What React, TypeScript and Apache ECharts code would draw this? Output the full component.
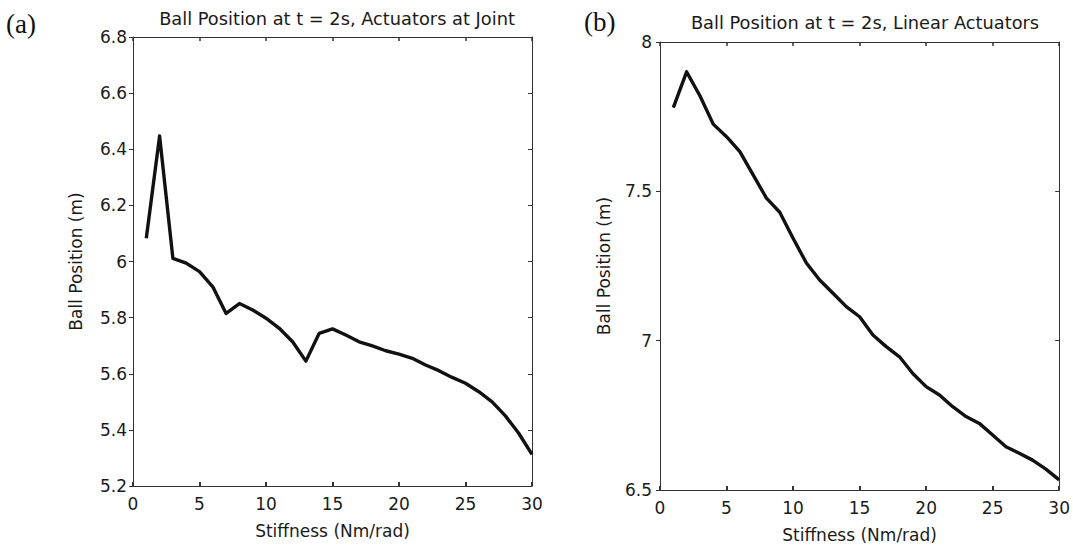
import React, { useEffect, useRef } from "react";
import * as echarts from "echarts";

const stiffness = [1,2,3,4,5,6,7,8,9,10,11,12,13,14,15,16,17,18,19,20,21,22,23,24,25,26,27,28,29,30];
const jointPos = [6.083,6.447,6.011,5.994,5.964,5.91,5.815,5.85,5.827,5.798,5.762,5.714,5.645,5.744,5.76,5.738,5.714,5.699,5.682,5.67,5.655,5.631,5.611,5.587,5.566,5.536,5.50,5.45,5.388,5.313];
const linearPos = [7.78,7.90,7.82,7.725,7.683,7.633,7.555,7.477,7.43,7.343,7.26,7.203,7.159,7.114,7.08,7.019,6.98,6.946,6.89,6.846,6.818,6.779,6.746,6.723,6.684,6.645,6.623,6.60,6.57,6.534];

const titleA = "Ball Position at t = 2s, Actuators at Joint";
const titleB = "Ball Position at t = 2s, Linear Actuators";
const xName = "Stiffness (Nm/rad)";
const yName = "Ball Position (m)";

const FONT = "'DejaVu Sans', 'Liberation Sans', Arial, sans-serif";
const TXT = "#1a1a1a";
const AX = "#333";

function makeAxes(gridIndex: number, yMin: number, yMax: number, yInt: number, labelMarginY: number, nameGapY: number) {
  const tickLabel = { fontFamily: FONT, fontSize: 17, color: TXT };
  const xAxes = [
    {
      type: "value", gridIndex, min: 0, max: 30, interval: 5, position: "bottom",
      name: xName, nameLocation: "middle", nameGap: 36,
      nameTextStyle: { fontFamily: FONT, fontSize: 17, color: TXT },
      axisLine: { show: true, onZero: false, lineStyle: { color: AX, width: 1 } },
      axisTick: { show: true, inside: true, length: 4, lineStyle: { color: AX, width: 2 } },
      axisLabel: { ...tickLabel, margin: 9 },
      splitLine: { show: false },
    },
    {
      type: "value", gridIndex, min: 0, max: 30, interval: 5, position: "top",
      axisLine: { show: true, onZero: false, lineStyle: { color: AX, width: 1 } },
      axisTick: { show: true, inside: true, length: 4, lineStyle: { color: AX, width: 1.5 } },
      axisLabel: { show: false },
      splitLine: { show: false },
    },
  ];
  const yAxes = [
    {
      type: "value", gridIndex, min: yMin, max: yMax, interval: yInt, position: "left",
      name: yName, nameLocation: "middle", nameGap: nameGapY,
      nameTextStyle: { fontFamily: FONT, fontSize: 17, color: TXT },
      axisLine: { show: true, onZero: false, lineStyle: { color: AX, width: 1 } },
      axisTick: { show: true, inside: false, length: 4, lineStyle: { color: AX, width: 1 } },
      axisLabel: { ...tickLabel, margin: labelMarginY },
      splitLine: { show: false },
    },
    {
      type: "value", gridIndex, min: yMin, max: yMax, interval: yInt, position: "right",
      axisLine: { show: true, onZero: false, lineStyle: { color: AX, width: 1 } },
      axisTick: { show: true, inside: true, length: 4, lineStyle: { color: AX, width: 1 } },
      axisLabel: { show: false },
      splitLine: { show: false },
    },
  ];
  return { xAxes, yAxes };
}

export default function App() {
  const ref = useRef<HTMLDivElement>(null);
  useEffect(() => {
    if (!ref.current) return;
    const chart = echarts.init(ref.current, null, { renderer: "svg" });
    const a = makeAxes(0, 5.2, 6.8, 0.2, 6, 49);
    const b = makeAxes(1, 6.5, 8, 0.5, 8, 48);
    chart.setOption({
      animation: false,
      backgroundColor: "#ffffff",
      title: [
        { text: titleA, left: 332, top: 4, textAlign: "center",
          textStyle: { fontFamily: FONT, fontSize: 17.8, fontWeight: "normal", color: TXT } },
        { text: titleB, left: 860, top: 8, textAlign: "center",
          textStyle: { fontFamily: FONT, fontSize: 17.8, fontWeight: "normal", color: TXT } },
      ],
      graphic: [
        { type: "text", left: 6, top: 10, style: { text: "(a)", font: "27px 'Liberation Serif', 'Times New Roman', serif", fill: "#111" } },
        { type: "text", left: 584, top: 8, style: { text: "(b)", font: "27px 'Liberation Serif', 'Times New Roman', serif", fill: "#111" } },
      ],
      grid: [
        { left: 133, top: 37, width: 399, height: 449, containLabel: false },
        { left: 660, top: 42, width: 401, height: 448, containLabel: false },
      ],
      xAxis: [...a.xAxes, ...b.xAxes],
      yAxis: [...a.yAxes, ...b.yAxes],
      series: [
        {
          type: "line", xAxisIndex: 0, yAxisIndex: 0,
          data: stiffness.map((x, i) => [x, jointPos[i]]),
          showSymbol: false, symbol: "none",
          lineStyle: { color: "#111", width: 3.4, join: "round" },
        },
        {
          type: "line", xAxisIndex: 2, yAxisIndex: 2,
          data: stiffness.map((x, i) => [x, linearPos[i]]),
          showSymbol: false, symbol: "none",
          lineStyle: { color: "#111", width: 3.4, join: "round" },
        },
      ],
    });
    return () => chart.dispose();
  }, []);
  return (
    <div
      ref={ref}
      style={{ position: "fixed", left: 0, top: 0, width: 1073, height: 550, background: "#fff" }}
    />
  );
}
